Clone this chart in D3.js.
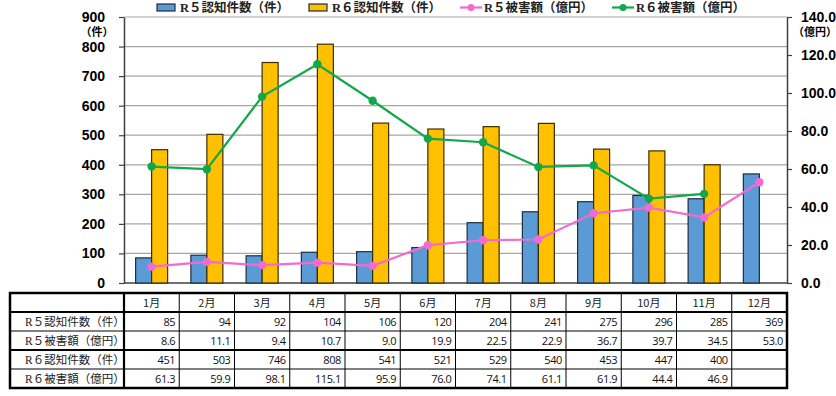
<!DOCTYPE html>
<html>
<head>
<meta charset="utf-8">
<script src="https://cdn.jsdelivr.net/npm/d3@7"></script>
<style>
  body { margin: 0; background: #fff; }
  svg { display: block; }
</style>
</head>
<body>
<div id="chart"></div>
<script>
// data
var months = ['1月', '2月', '3月', '4月', '5月', '6月', '7月', '8月', '9月', '10月', '11月', '12月'];
var r5Count = [85, 94, 92, 104, 106, 120, 204, 241, 275, 296, 285, 369];
var r5Damage = [8.6, 11.1, 9.4, 10.7, 9.0, 19.9, 22.5, 22.9, 36.7, 39.7, 34.5, 53.0];
var r6Count = [451, 503, 746, 808, 541, 521, 529, 540, 453, 447, 400, null];
var r6Damage = [61.3, 59.9, 98.1, 115.1, 95.9, 76.0, 74.1, 61.1, 61.9, 44.4, 46.9, null];
var leftTicks = [0, 100, 200, 300, 400, 500, 600, 700, 800, 900];
var rightTicks = [0, 20, 40, 60, 80, 100, 120, 140];
var seriesNames = ['R５認知件数（件）', 'R６認知件数（件）', 'R５被害額（億円）', 'R６被害額（億円）'];

var chart_width = 836;
var chart_height = 396;
var plot = { left: 124, right: 787, top: 17, bottom: 283 };
var sansBold = '"Liberation Sans", Arial, sans-serif';
var serif = '"Liberation Serif", "Noto Sans CJK JP", serif';
var colBlue = '#5b9bd5', colYellow = '#ffc000', colPink = '#f36ad4', colGreen = '#11a84a';

var svg = d3.select('#chart')
  .append('svg')
  .attr('width', chart_width)
  .attr('height', chart_height);

// scales
var xScale = d3.scaleBand()
  .domain(months)
  .range([plot.left, plot.right]);

var yLeft = d3.scaleLinear()
  .domain([0, 900])
  .range([plot.bottom, plot.top]);

var yRight = d3.scaleLinear()
  .domain([0, 140])
  .range([plot.bottom, plot.top]);

// gridlines
svg.append('g')
  .selectAll('line')
  .data(leftTicks.slice(1))
  .enter()
  .append('line')
  .attr('x1', plot.left)
  .attr('x2', plot.right)
  .attr('y1', d => yLeft(d))
  .attr('y2', d => yLeft(d))
  .attr('stroke', '#a6a6a6')
  .attr('stroke-width', 1.2);

// axes
var leftAxis = svg.append('g')
  .attr('transform', `translate(${plot.left},0)`)
  .call(d3.axisLeft(yLeft).tickValues(leftTicks).tickSize(5).tickPadding(14).tickSizeOuter(0));
leftAxis.select('.domain').attr('stroke', '#404040').attr('stroke-width', 1.5);
leftAxis.selectAll('.tick line').attr('stroke', '#404040').attr('stroke-width', 1.2);
leftAxis.selectAll('text')
  .attr('font-family', sansBold)
  .attr('font-weight', 'bold')
  .attr('font-size', 14)
  .attr('fill', '#000');

var rightAxis = svg.append('g')
  .attr('transform', `translate(${plot.right},0)`)
  .call(d3.axisRight(yRight).tickValues(rightTicks).tickSize(5).tickPadding(9).tickSizeOuter(0)
    .tickFormat(d3.format('.1f')));
rightAxis.select('.domain').attr('stroke', '#404040').attr('stroke-width', 1.5);
rightAxis.selectAll('.tick line').attr('stroke', '#404040').attr('stroke-width', 1.2);
rightAxis.selectAll('text')
  .attr('font-family', sansBold)
  .attr('font-weight', 'bold')
  .attr('font-size', 14)
  .attr('fill', '#000');

// x baseline
svg.append('line')
  .attr('x1', plot.left).attr('x2', plot.right)
  .attr('y1', plot.bottom).attr('y2', plot.bottom)
  .attr('stroke', '#404040').attr('stroke-width', 1.5);

// unit labels
svg.append('text')
  .attr('x', 97).attr('y', 36)
  .attr('text-anchor', 'middle')
  .attr('font-family', serif).attr('font-size', 11).attr('font-weight', 'bold')
  .text('（件）');
svg.append('text')
  .attr('x', 815).attr('y', 36)
  .attr('text-anchor', 'middle')
  .attr('font-family', serif).attr('font-size', 11).attr('font-weight', 'bold')
  .text('（億円）');

// bars
var barW = 16;
var bars = svg.append('g');
bars.selectAll('.r5')
  .data(r5Count)
  .enter()
  .append('rect')
  .attr('x', (d, i) => xScale(months[i]) + xScale.bandwidth() / 2 - barW)
  .attr('y', d => yLeft(d))
  .attr('width', barW)
  .attr('height', d => plot.bottom - yLeft(d))
  .attr('fill', colBlue)
  .attr('stroke', '#1f2d3d')
  .attr('stroke-width', 1.2);

bars.selectAll('.r6')
  .data(r6Count.filter(d => d != null))
  .enter()
  .append('rect')
  .attr('x', (d, i) => xScale(months[i]) + xScale.bandwidth() / 2)
  .attr('y', d => yLeft(d))
  .attr('width', barW)
  .attr('height', d => plot.bottom - yLeft(d))
  .attr('fill', colYellow)
  .attr('stroke', '#3a2e00')
  .attr('stroke-width', 1.2);

// lines
function drawLine(values, color) {
  var pts = values.map((d, i) => ({ m: months[i], v: d })).filter(p => p.v != null);
  var line = d3.line()
    .x(p => xScale(p.m) + xScale.bandwidth() / 2)
    .y(p => yRight(p.v));
  svg.append('path')
    .datum(pts)
    .attr('d', line)
    .attr('fill', 'none')
    .attr('stroke', color)
    .attr('stroke-width', 2.2);
  svg.append('g')
    .selectAll('circle')
    .data(pts)
    .enter()
    .append('circle')
    .attr('cx', p => xScale(p.m) + xScale.bandwidth() / 2)
    .attr('cy', p => yRight(p.v))
    .attr('r', 4.2)
    .attr('fill', color);
}
drawLine(r5Damage, colPink);
drawLine(r6Damage, colGreen);

// legend
var legendX = [157, 309, 461, 613];
var legend = svg.append('g');
seriesNames.forEach((name, i) => {
  var x = legendX[i];
  if (i < 2) {
    legend.append('rect')
      .attr('x', x).attr('y', 4).attr('width', 18).attr('height', 7)
      .attr('fill', i === 0 ? colBlue : colYellow)
      .attr('stroke', '#1f2d3d').attr('stroke-width', 1.2);
  } else {
    var c = i === 2 ? colPink : colGreen;
    legend.append('line')
      .attr('x1', x - 1).attr('x2', x + 21).attr('y1', 7.5).attr('y2', 7.5)
      .attr('stroke', c).attr('stroke-width', 2.2);
    legend.append('circle')
      .attr('cx', x + 10).attr('cy', 7.5).attr('r', 3.5).attr('fill', c);
  }
  legend.append('text')
    .attr('x', x + 23).attr('y', 12)
    .attr('font-family', serif).attr('font-size', 12.5).attr('font-weight', 'bold')
    .attr('fill', '#222')
    .text(name);
});

// table
var table = { left: 10, top: 293, right: plot.right, rowH: 19 };
var rowLabels = seriesNames.slice(0, 1).concat([seriesNames[2], seriesNames[1], seriesNames[3]]);
var rowData = [r5Count, r5Damage, r6Count, r6Damage];
var rowFmt = [d3.format('d'), d3.format('.1f'), d3.format('d'), d3.format('.1f')];
var tbl = svg.append('g');
var tableBottom = table.top + table.rowH * 5;

// horizontal lines
d3.range(1, 5).forEach(r => {
  var y = table.top + r * table.rowH;
  tbl.append('line')
    .attr('x1', table.left).attr('x2', table.right)
    .attr('y1', y).attr('y2', y)
    .attr('stroke', '#000')
    .attr('stroke-width', (r === 1 || r === 3) ? 2.2 : 1);
});
// vertical lines
months.forEach((m, i) => {
  var x = xScale(m);
  tbl.append('line')
    .attr('x1', x).attr('x2', x)
    .attr('y1', table.top).attr('y2', tableBottom)
    .attr('stroke', '#000')
    .attr('stroke-width', i === 0 ? 2.2 : 1);
});
tbl.append('rect')
  .attr('x', table.left).attr('y', table.top)
  .attr('width', table.right - table.left).attr('height', tableBottom - table.top)
  .attr('fill', 'none').attr('stroke', '#000').attr('stroke-width', 2.5);

// header
tbl.selectAll('.hdr')
  .data(months)
  .enter()
  .append('text')
  .attr('x', d => xScale(d) + xScale.bandwidth() / 2)
  .attr('y', table.top + 14)
  .attr('text-anchor', 'middle')
  .attr('font-family', '"Noto Sans CJK JP", sans-serif')
  .attr('font-size', 11)
  .attr('fill', '#222')
  .text(d => d);

// rows
rowData.forEach((vals, r) => {
  var y = table.top + (r + 1) * table.rowH + 14;
  tbl.append('text')
    .attr('x', 25).attr('y', y)
    .attr('font-family', serif).attr('font-size', 11.5)
    .attr('fill', '#222')
    .text(rowLabels[r]);
  vals.forEach((v, i) => {
    if (v == null) return;
    tbl.append('text')
      .attr('x', xScale(months[i]) + xScale.bandwidth() - 4)
      .attr('y', y)
      .attr('text-anchor', 'end')
      .attr('font-family', '"Open Sans", "Liberation Sans", sans-serif')
      .attr('font-size', 11)
      .attr('letter-spacing', -0.4)
      .attr('fill', '#111')
      .text(rowFmt[r](v));
  });
});
</script>
</body>
</html>
